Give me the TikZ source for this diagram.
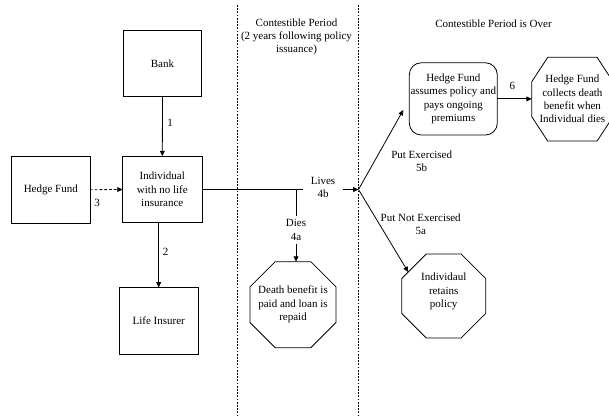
\documentclass[tikz,border=0pt]{standalone}
\usepackage{fontspec}
\setmainfont{Liberation Serif}
\usetikzlibrary{arrows.meta,shapes.geometric}
\tikzset{
  txt/.style={font=\fontsize{8.25}{10}\selectfont, align=center, inner sep=0pt},
  box/.style={draw, line width=0.6pt, txt, minimum width=#1, minimum height=50pt, outer sep=0pt},
  octo/.style={draw, line width=0.6pt, regular polygon, regular polygon sides=8, minimum size=#1, inner sep=0pt, outer sep=0pt},
  conn/.style={line width=0.6pt},
  arr/.style={conn, -{Triangle[length=4pt,width=3.6pt]}},
  darr/.style={arr, dash pattern=on 2pt off 1.6pt},
  divider/.style={line width=0.7pt, dash pattern=on 1.4pt off 1pt},
}
\begin{document}
\begin{tikzpicture}[x=0.75pt,y=-0.75pt]
\useasboundingbox (0,0) rectangle (609,417);
\clip (0,0) rectangle (609,417);
% dividers
\coordinate (v1t) at (237.3,5); \coordinate (v1b) at (237.3,417);
\coordinate (v2t) at (358.5,5); \coordinate (v2b) at (358.5,417);
\draw[divider] (v1t) -- (v1b);
\draw[divider] (v2t) -- (v2b);
% headers
\node[txt] (h1) at (296.5,36.7) {Contestible Period\\(2 years following policy\\issuance)};
\node[txt] (h2) at (493.5,23.3) {Contestible Period is Over};
% boxes
\node[box=58.8pt] (bank) at (162.5,63.5) {Bank};
\node[box=59.5pt] (ind) at (162.3,189.5) {Individual\\with no life\\insurance};
\node[box=58.7pt] (hfl) at (50.8,189.7) {Hedge Fund};
\node[box=59pt] (life) at (158.7,320.8) {Life Insurer};
% arrows left part
\draw[arr] (bank.south) -- (ind.north);
\node[txt] (l1) at (170,123) {1};
\draw[arr] (life.north |- ind.south) -- (life.north);
\node[txt] (l2) at (165.7,251.7) {2};
\draw[darr] (hfl.east) -- (ind.west);
\node[txt] (l3) at (97,203) {3};
% contestible period
\coordinate (j1) at (296,189.5);
\coordinate (e1) at (303,189.5);
\coordinate (d1) at (296,216);
\coordinate (d2) at (296,244);
\coordinate (s1) at (343,189.5);
\coordinate (br) at (358.5,189.5);
\draw[conn] (ind.east) -- (e1);
\draw[conn] (j1) -- (d1);
\node[txt] (l4a) at (296,230) {Dies\\4a};
\node[octo=69.8pt] (db) at (293,304.7) {};
\node[txt] (dbt) at (293,304.3) {Death benefit is\\paid and loan is\\repaid};
\draw[arr] (d2) -- (d2 |- db.north);
\node[txt] (l4b) at (323,187.7) {Lives\\4b};
\draw[arr] (s1) -- (br);
% after period
\node[draw, line width=0.6pt, rounded corners=9pt, minimum width=66pt, minimum height=54.2pt, outer sep=0pt, txt] (hf2) at (453.3,98.9) {Hedge Fund\\assumes policy and\\pays ongoing\\premiums};
\coordinate (t5b) at (403.3,110);
\draw[arr] (br) -- (t5b);
\node[txt] (l5b) at (421.7,161.3) {Put Exercised\\5b};
\node[octo=68.2pt] (indo) at (443.7,296) {};
\node[txt] (indot) at (443.7,291.5) {Individaul\\retains\\policy};
\draw[arr] (br) -- (indo.146);
\node[txt] (l5a) at (420.7,224.2) {Put Not Exercised\\5a};
% right octagon
\node[txt, minimum width=61pt, minimum height=62.8pt, outer sep=0pt] (hfc) at (572.4,99.2) {Hedge Fund\\collects death\\benefit when\\Individual dies};
\draw[line width=0.6pt] ([xshift=12pt]hfc.north west) -- ([xshift=-12pt]hfc.north east) -- ([yshift=-18.3pt]hfc.north east) -- ([yshift=18.3pt]hfc.south east) -- ([xshift=-12pt]hfc.south east) -- ([xshift=12pt]hfc.south west) -- ([yshift=18.3pt]hfc.south west) -- ([yshift=-18.3pt]hfc.north west) -- cycle;
\draw[arr] (hf2.east) -- (hf2.east -| hfc.west);
\node[txt] (l6) at (512.3,86) {6};
\end{tikzpicture}
\end{document}
